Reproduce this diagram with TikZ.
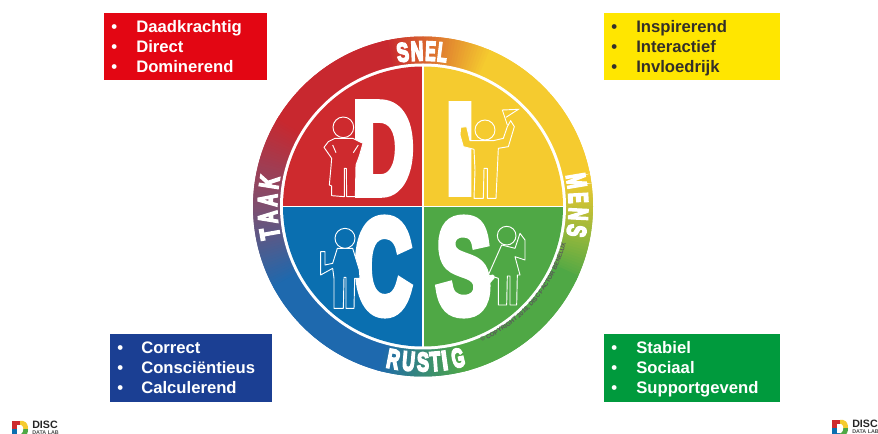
\documentclass[tikz,border=0pt]{standalone}
\usepackage{fontspec}
\usetikzlibrary{decorations.text}
\setmainfont{Liberation Sans}
\newfontfamily\heavy[FakeBold=7]{Liberation Sans Bold}
\definecolor{qred}{HTML}{CE2A2E}
\definecolor{qyellow}{HTML}{F5CB2F}
\definecolor{qblue}{HTML}{0A6FB0}
\definecolor{qgreen}{HTML}{4FA845}
\definecolor{rred}{HTML}{C8282F}
\definecolor{rmauve}{HTML}{7E4F70}
\definecolor{rblue}{HTML}{1E69AE}
\definecolor{boxred}{HTML}{E30613}
\definecolor{boxyellow}{HTML}{FFE600}
\definecolor{boxblue}{HTML}{1B3F93}
\definecolor{boxgreen}{HTML}{009A3D}
\tikzset{
  listtext/.style={anchor=base west,inner sep=0pt,font=\fontsize{12.5}{14}\selectfont\bfseries},
  dfig/.style={draw=white,line width=.7pt,line join=round,fill=#1},
}
\newcommand{\gradseg}[4]{%
  \pgfmathtruncatemacro{\nseg}{#2-#1}%
  \foreach \i in {0,...,\nseg}{%
    \pgfmathsetmacro{\aa}{#1+\i}%
    \pgfmathsetmacro{\ab}{\aa+2}%
    \pgfmathsetmacro{\pp}{100*\i/\nseg}%
    \colorlet{tmpc}{#4!\pp!#3}%
    \fill[tmpc] (0,0) -- (\aa:170) arc (\aa:\ab:170) -- cycle;
  }}
\newcommand{\wl}[5][155.5]{\node[inner sep=0pt,text=white,rotate=#3] (#5#2) at (#2:#1) {\resizebox{#4pt}{14pt}{\heavy #5}};}
\begin{document}
\begin{tikzpicture}[x=.75pt,y=-.75pt]
\useasboundingbox (0,0) rectangle (878,434);
\fill[white] (0,0) rectangle (878,434);
% --- wheel ---
\begin{scope}[shift={(423,206.5)},y=.75pt]
  \gradseg{-26}{10}{qgreen}{qyellow}
  \gradseg{10}{66}{qyellow}{qyellow}
  \gradseg{66}{102}{qyellow}{rred}
  \gradseg{102}{148}{rred}{rred}
  \gradseg{148}{180}{rred}{rmauve}
  \gradseg{180}{208}{rmauve}{rblue}
  \gradseg{208}{254}{rblue}{rblue}
  \gradseg{254}{284}{rblue}{qgreen}
  \gradseg{284}{334}{qgreen}{qgreen}
  \fill[white] (0,0) circle (143);
  \fill[qyellow] (0,0) -- (0:140) arc (0:90:140) -- cycle;
  \fill[qred] (0,0) -- (90:140) arc (90:180:140) -- cycle;
  \fill[qblue] (0,0) -- (180:140) arc (180:270:140) -- cycle;
  \fill[qgreen] (0,0) -- (270:140) arc (270:360:140) -- cycle;
  \draw[white,line width=.9pt] (180:141) -- (0:141) (90:141) -- (270:141);
  % ring labels
  \wl{97.5}{7.5}{9}{S}
  \wl{92.2}{2.2}{9.5}{N}
  \wl{87.2}{-2.8}{8}{E}
  \wl{82.8}{-7.2}{7.5}{L}
  \wl{9.5}{-80.5}{11}{M}
  \wl{3.2}{-86.8}{8}{E}
  \wl{-2.8}{-92.8}{9.5}{N}
  \wl{-9}{-99}{9}{S}
  \wl{190}{100}{8.5}{T}
  \wl{184}{94}{9.5}{A}
  \wl{177.6}{87.6}{9.5}{A}
  \wl{171}{81}{9.5}{K}
  \wl{259}{-11}{9.5}{R}
  \wl{264.7}{-5.3}{9.5}{U}
  \wl{270}{0}{9}{S}
  \wl{274.5}{4.5}{8}{T}
  \wl{278}{8}{4.5}{I}
  \wl{283}{13}{9.5}{G}
  % copyright
  \path[decorate,decoration={text along path,text align=center,
    text={|\fontsize{4.6}{5}\selectfont\bfseries\color{black!65}|© COPYRIGHT 2018, DISC FACTOR BENELUX}}]
    (-66:147.5) arc (-66:-15:147.5);
\end{scope}
% big letters
\node[inner sep=0pt,text=white] (bigD) at (383,148.5) {\resizebox{46pt}{67pt}{\heavy D}};
\node[inner sep=0pt,text=white] (bigI) at (460,149) {\resizebox{22pt}{65pt}{\heavy I}};
\node[inner sep=0pt,text=white] (bigC) at (383,266.5) {\resizebox{43pt}{70pt}{\heavy C}};
\node[inner sep=0pt,text=white] (bigS) at (463.5,266.5) {\resizebox{41pt}{70pt}{\heavy S}};
% figures: coordinates of the crops
\begin{scope}[shift={(250,30)},x=.25pt,y=-.25pt]
  % D figure
  \draw[dfig=qred] (255,325) -- (235,335) -- (222,352) -- (245,385) -- (243,410) -- (238,465) -- (245,468) -- (245,497) -- (283,500) -- (283,415) -- (289,415) -- (290,500) -- (316,500) -- (318,405) -- (328,378) -- (339,340) -- (308,325) -- cycle;
  \draw[white,line width=.7pt] (248,345) -- (258,368) (325,345) -- (310,368);
  \draw[dfig=qred] (280,292) circle[radius=31];
  % I figure
  \draw[dfig=qyellow] (680,332) -- (660,332) -- (650,290) -- (632,292) -- (630,315) -- (640,350) -- (672,358) -- (675,420) -- (672,505) -- (700,505) -- (702,415) -- (712,415) -- (712,505) -- (738,505) -- (742,420) -- (745,355) -- (775,350) -- (793,290) -- (782,272) -- (772,290) -- (760,325) -- (730,332) -- cycle;
  \draw[dfig=qyellow] (705,300) circle[radius=30];
  \draw[white,line width=.7pt] (772,285) -- (757,240) -- (805,238) -- (768,262);
\end{scope}
\begin{scope}[shift={(250,200)},x=.25pt,y=-.25pt]
  % C figure
  \draw[dfig=qblue] (262,145) -- (248,190) -- (225,195) -- (225,155) -- (212,155) -- (212,225) -- (248,205) -- (252,235) -- (252,325) -- (280,325) -- (282,232) -- (288,232) -- (288,325) -- (312,325) -- (314,235) -- (330,235) -- (328,210) -- (308,145) -- cycle;
  \draw[dfig=qblue] (285,115) circle[radius=30];
  % S figure
  \draw[dfig=qgreen] (755,135) -- (715,225) -- (745,235) -- (745,315) -- (770,315) -- (772,228) -- (780,228) -- (780,315) -- (800,315) -- (802,225) -- (810,225) -- (795,170) -- (825,180) -- (825,120) -- (810,100) -- (800,130) -- (795,145) -- cycle;
  \draw[dfig=qgreen] (770,107) circle[radius=28];
  \fill[white] (718,252) -- (702,234) .. controls (700,222) and (714,220) .. (718,230) .. controls (722,220) and (736,222) .. (734,234) -- cycle;
\end{scope}
% --- info boxes ---
\fill[boxred] (104,13) rectangle (267,80);
\fill[boxyellow] (604,13) rectangle (780,80);
\fill[boxblue] (110,334) rectangle (272,402);
\fill[boxgreen] (604,334) rectangle (780,402);
\foreach \y/\t [count=\n] in {33/Daadkrachtig,53/Direct,72.5/Dominerend}{
  \node[listtext,text=white] (r\n) at (136,\y) {\t};
  \node[listtext,text=white] (rb\n) at (111,\y) {•};}
\foreach \y/\t [count=\n] in {33/Inspirerend,53/Interactief,72.5/Invloedrijk}{
  \node[listtext,text=black!85!olive] (y\n) at (636,\y) {\t};
  \node[listtext,text=black!85!olive] (yb\n) at (611,\y) {•};}
\foreach \y/\t [count=\n] in {353.5/Correct,373.5/Consciëntieus,393/Calculerend}{
  \node[listtext,text=white] (b\n) at (141,\y) {\t};
  \node[listtext,text=white] (bb\n) at (117,\y) {•};}
\foreach \y/\t [count=\n] in {353.5/Stabiel,373.5/Sociaal,393/Supportgevend}{
  \node[listtext,text=white] (g\n) at (636,\y) {\t};
  \node[listtext,text=white] (gb\n) at (611,\y) {•};}
% --- logos ---
\clip (0,0) rectangle (878,434);
\foreach \lx/\ly/\nm in {12/421/a,832/420/b}{
  \begin{scope}[shift={(\lx,\ly)}]
    \fill[qred] (0,0) rectangle (8,8);
    \fill[qyellow] (8,0) -- (11,0) .. controls (15,1) and (16,4) .. (16,8) -- (8,8) -- cycle;
    \fill[qblue] (0,8) rectangle (8,16);
    \fill[qgreen] (8,8) -- (16,8) .. controls (16,12) and (15,15) .. (11,16) -- (8,16) -- cycle;
    \fill[white] (5,4) -- (9,4) .. controls (12,5) and (12,11) .. (9,13) -- (5,13) -- cycle;
    \node[anchor=base west,inner sep=0pt,font=\fontsize{8}{9}\selectfont\bfseries,text=black!85] (disc\nm) at (20,7.5) {DISC};
    \node[anchor=base west,inner sep=0pt,font=\fontsize{4}{5}\selectfont\bfseries,text=black!70] (lab\nm) at (20,13.5) {DATA LAB};
  \end{scope}}
\end{tikzpicture}
\end{document}
